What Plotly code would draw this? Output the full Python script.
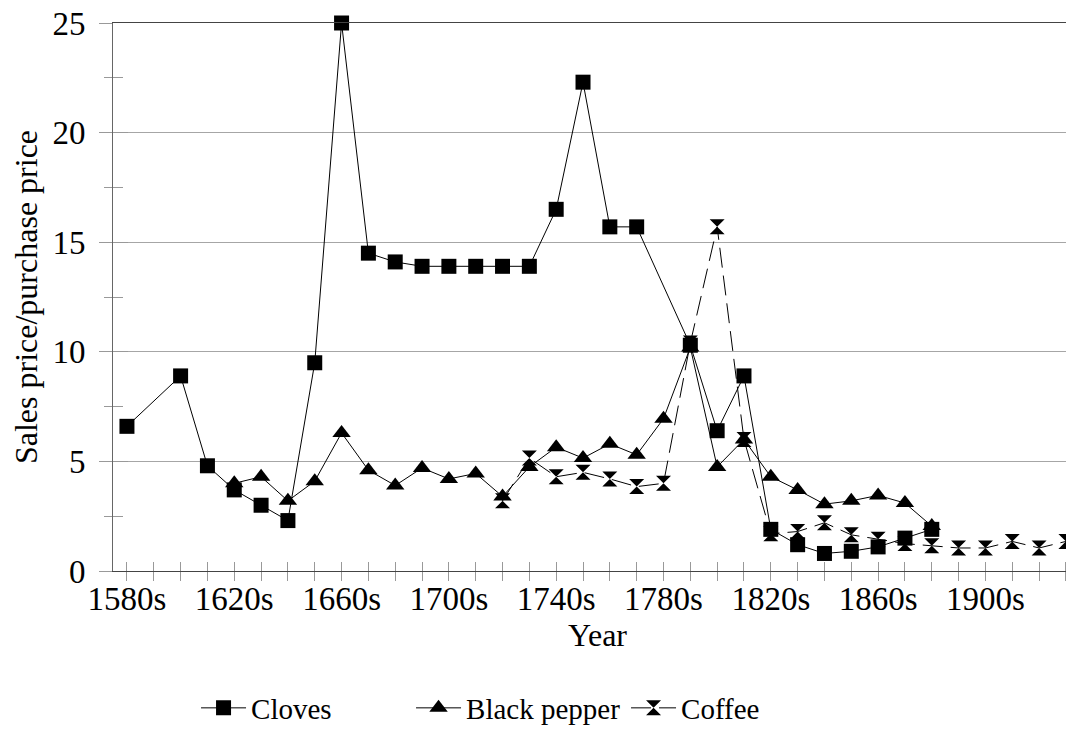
import plotly.graph_objects as go

decades = [f"{y}s" for y in range(1580, 1940, 10)]

cloves = [6.6, None, 8.9, 4.8, 3.7, 3.0, 2.3, 9.5, 25.0, 14.5, 14.1, 13.9, 13.9, 13.9,
          13.9, 13.9, 16.5, 22.3, 15.7, 15.7, None, 10.3, 6.4, 8.9, 1.9, 1.2, 0.8, 0.9,
          1.1, 1.5, 1.9, None, None, None, None, None]
black_pepper = [None, None, None, None, 4.0, 4.3, 3.2, 4.1, 6.3, 4.6, 3.9, 4.7, 4.2, 4.45,
                3.4, 4.75, 5.65, 5.15, 5.8, 5.3, 6.95, 10.2, 4.75, 6.0, 4.3, 3.7, 3.05, 3.2,
                3.45, 3.1, 2.05, None, None, None, None, None]
coffee = [None, None, None, None, None, None, None, None, None, None, None, None, None, None,
          3.2, 5.15, 4.3, 4.5, 4.2, 3.85, 4.0, 10.4, 15.7, 6.0, 1.7, 1.8, 2.2, 1.65,
          1.45, 1.25, 1.15, 1.05, 1.05, 1.35, 1.05, 1.35]

label_every = 4
tick_text = [d if i % label_every == 0 else "" for i, d in enumerate(decades)]

FONT = "Liberation Serif, Times New Roman, Tinos, serif"

fig = go.Figure()
fig.add_trace(go.Scatter(
    x=decades, y=cloves, name="Cloves", mode="lines+markers", connectgaps=True,
    line=dict(color="black", width=1),
    marker=dict(symbol="square", size=15, color="black"), cliponaxis=False))
fig.add_trace(go.Scatter(
    x=decades, y=black_pepper, name="Black pepper", mode="lines+markers", connectgaps=True,
    line=dict(color="black", width=1),
    marker=dict(symbol="triangle-up", size=16, color="black"), cliponaxis=False))
fig.add_trace(go.Scatter(
    x=decades, y=coffee, name="Coffee", mode="lines+markers", connectgaps=True,
    line=dict(color="black", width=1, dash="20px,8px"),
    marker=dict(symbol="hourglass", size=15, color="black"), cliponaxis=False))
# helper (empty) trace so the overlay axes carrying the inner tick marks are drawn
fig.add_trace(go.Scatter(x=[None], y=[None], xaxis="x2", yaxis="y2", showlegend=False,
                         hoverinfo="skip", mode="markers"))

xr = [-0.52, 35.6]
fig.update_layout(
    width=1074, height=745,
    margin=dict(l=105, r=0, t=15, b=182, autoexpand=False),
    paper_bgcolor="white", plot_bgcolor="white",
    font=dict(family=FONT, color="black", size=32),
    showlegend=True,
    legend=dict(orientation="h", x=0.0857, xanchor="left", y=-0.25, yanchor="middle",
                font=dict(size=29, family=FONT, color="black"), entrywidth=155, itemwidth=45,
                bgcolor="rgba(0,0,0,0)"),
    xaxis=dict(type="category", categoryorder="array", categoryarray=decades,
               range=xr, tickmode="array", tickvals=decades, ticktext=tick_text,
               ticks="outside", ticklen=9, tickcolor="#999999", tickwidth=1,
               showline=True, linecolor="#444444", linewidth=1, mirror=True,
               showgrid=False, zeroline=False, automargin=False,
               ticklabelstandoff=-11, ticklabeloverflow="allow",
               tickfont=dict(size=33, family=FONT, color="black"),
               title=dict(text="Year", font=dict(size=32, family=FONT, color="black"),
                          standoff=2)),
    xaxis2=dict(type="linear", overlaying="x", anchor="y", range=xr,
                tickmode="array", tickvals=[-0.52] + list(range(36)),
                ticks="inside", ticklen=9, tickcolor="#999999", tickwidth=1,
                showticklabels=False, showgrid=False, zeroline=False, showline=False,
                automargin=False),
    yaxis=dict(range=[0, 25], tickvals=[0, 5, 10, 15, 20, 25],
               ticks="outside", ticklen=13, tickcolor="#999999", tickwidth=1,
               minor=dict(dtick=2.5, ticks="outside", ticklen=8, tickcolor="#999999",
                          showgrid=False),
               showline=True, linecolor="#666666", linewidth=1,
               showgrid=True, gridcolor="#a6a6a6", gridwidth=1, zeroline=False,
               ticklabelstandoff=7, automargin=False, ticklabeloverflow="allow",
               tickfont=dict(size=33, family=FONT, color="black"),
               title=dict(text="Sales price/purchase price",
                          font=dict(size=32, family=FONT, color="black"), standoff=10)),
    yaxis2=dict(overlaying="y", anchor="x", range=[0, 25], tickvals=[0, 5, 10, 15, 20, 25],
                ticks="inside", ticklen=15, tickcolor="#999999", tickwidth=1,
                minor=dict(dtick=2.5, ticks="inside", ticklen=10, tickcolor="#999999",
                           showgrid=False),
                showticklabels=False, showgrid=False, zeroline=False, showline=False,
                automargin=False),
)

fig.write_html("out.html")
